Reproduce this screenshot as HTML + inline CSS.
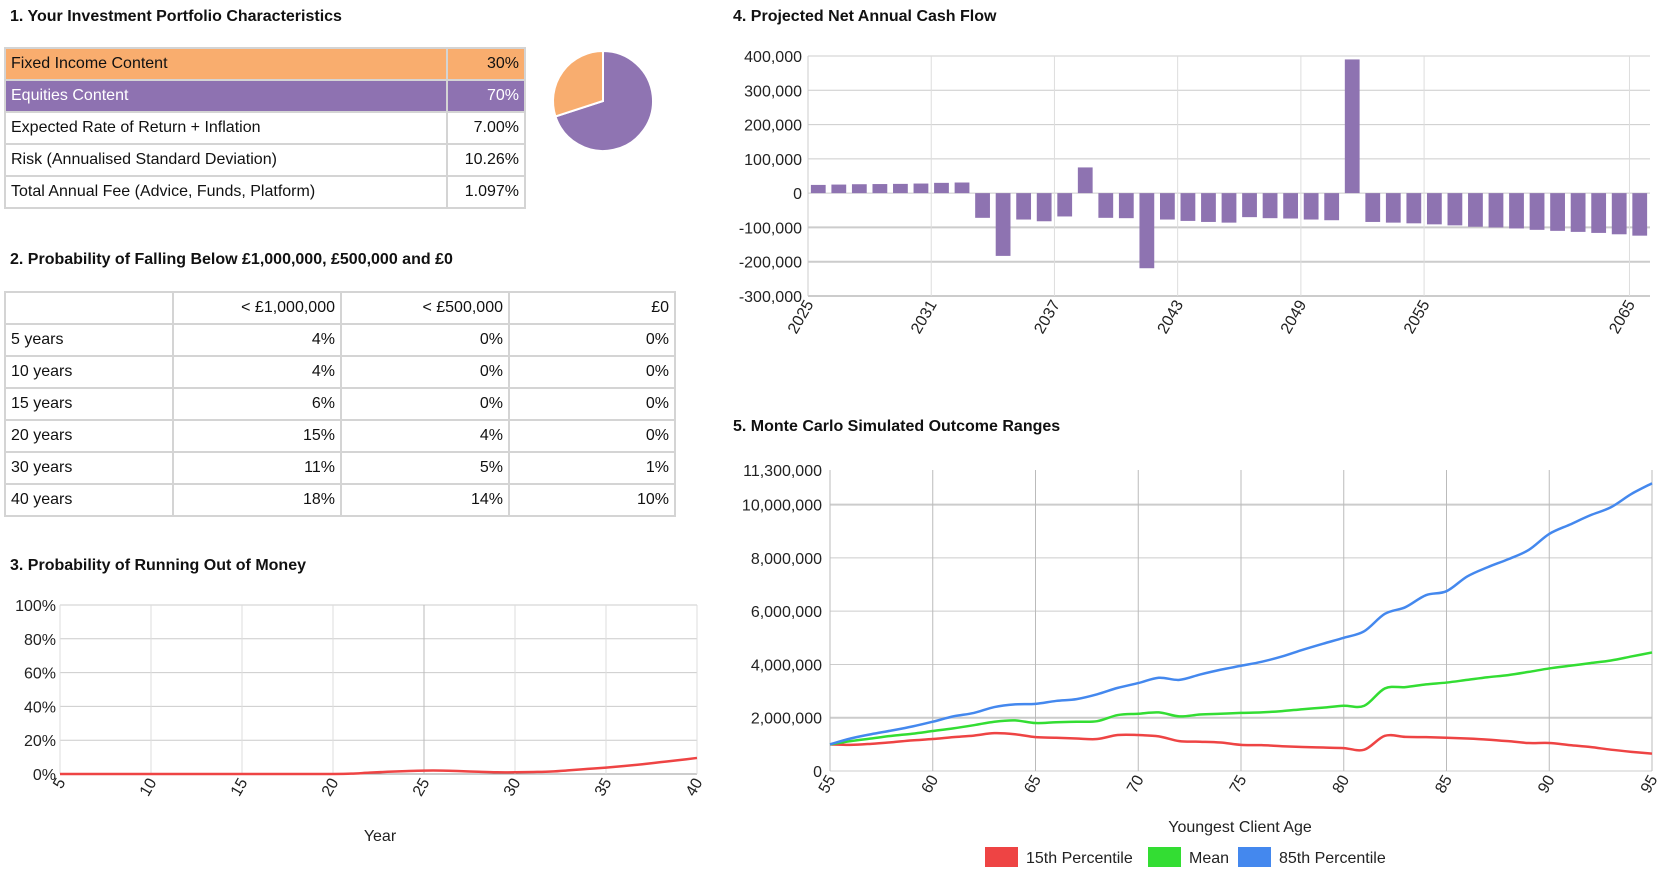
<!DOCTYPE html>
<html><head><meta charset="utf-8">
<style>
body{margin:0;width:1658px;height:877px;background:#fff;font-family:"Liberation Sans",Arial,sans-serif;color:#111;position:relative;overflow:hidden}
.t{position:absolute;font-weight:bold;font-size:16px}
table{position:absolute;border-collapse:collapse;font-size:16px}
td{border:2px solid #d4d4d4;padding:0 5px;height:30px}
td.r{text-align:right}
svg{position:absolute;left:0;top:0}
svg text{font-family:"Liberation Sans",Arial,sans-serif;font-size:16px;fill:#222}
</style></head><body>
<div class="t" style="left:10px;top:8px">1. Your Investment Portfolio Characteristics</div>
<table style="left:4px;top:47px;width:522px">
<tr style="background:#f9ad6e"><td style="width:430px">Fixed Income Content</td><td class="r">30%</td></tr>
<tr style="background:#8e72b1;color:#fff"><td>Equities Content</td><td class="r">70%</td></tr>
<tr><td>Expected Rate of Return + Inflation</td><td class="r">7.00%</td></tr>
<tr><td>Risk (Annualised Standard Deviation)</td><td class="r">10.26%</td></tr>
<tr><td>Total Annual Fee (Advice, Funds, Platform)</td><td class="r">1.097%</td></tr>
</table>
<div class="t" style="left:10px;top:251px">2. Probability of Falling Below £1,000,000, £500,000 and £0</div>
<table style="left:4px;top:291px;width:672px">
<tr><td style="width:156px"></td><td class="r" style="width:156px">&lt; £1,000,000</td><td class="r" style="width:156px">&lt; £500,000</td><td class="r">£0</td></tr>
<tr><td>5 years</td><td class="r">4%</td><td class="r">0%</td><td class="r">0%</td></tr>
<tr><td>10 years</td><td class="r">4%</td><td class="r">0%</td><td class="r">0%</td></tr>
<tr><td>15 years</td><td class="r">6%</td><td class="r">0%</td><td class="r">0%</td></tr>
<tr><td>20 years</td><td class="r">15%</td><td class="r">4%</td><td class="r">0%</td></tr>
<tr><td>30 years</td><td class="r">11%</td><td class="r">5%</td><td class="r">1%</td></tr>
<tr><td>40 years</td><td class="r">18%</td><td class="r">14%</td><td class="r">10%</td></tr>
</table>
<div class="t" style="left:10px;top:557px">3. Probability of Running Out of Money</div>
<div class="t" style="left:733px;top:8px">4. Projected Net Annual Cash Flow</div>
<div class="t" style="left:733px;top:418px">5. Monte Carlo Simulated Outcome Ranges</div>
<svg id="s" width="1658" height="877"></svg>
<script>
const pieValues=[30,70];
const ruinYears=[5,6,7,8,9,10,11,12,13,14,15,16,17,18,19,20,21,22,23,24,25,26,27,28,29,30,31,32,33,34,35,36,37,38,39,40];
const ruinValues=[0,0,0,0,0,0,0,0,0,0,0,0,0,0,0,0,0.2,0.8,1.3,1.7,2,2,1.7,1.3,1,1,1.2,1.5,2.2,3,3.8,4.7,5.8,7,8.2,9.5];
const ruinTicksY=[0,20,40,60,80,100];
const ruinTicksX=[5,10,15,20,25,30,35,40];
const cashYears=[];for(let y=2025;y<=2065;y++)cashYears.push(y);
const cashValues=[24000,25000,26000,26500,27000,28000,30000,31000,-72000,-183000,-77000,-82000,-68000,75000,-72000,-73000,-219000,-77000,-81000,-84000,-86000,-70000,-73000,-74000,-77000,-79000,390000,-84000,-86000,-88000,-91000,-94000,-98000,-100000,-103000,-107000,-110000,-113000,-116000,-120000,-124000];
const cashTicksY=[400000,300000,200000,100000,0,-100000,-200000,-300000];
const cashTickYears=[2025,2031,2037,2043,2049,2055,2065];
const ages=[];for(let a=55;a<=95;a++)ages.push(a);
const p85=[1.0,1.22,1.38,1.52,1.67,1.85,2.05,2.18,2.4,2.5,2.52,2.63,2.7,2.88,3.12,3.3,3.5,3.42,3.62,3.8,3.95,4.1,4.3,4.55,4.78,5.0,5.25,5.9,6.15,6.6,6.75,7.3,7.65,7.95,8.3,8.9,9.25,9.6,9.9,10.4,10.8];
const pMean=[1.0,1.12,1.22,1.32,1.4,1.5,1.6,1.72,1.85,1.9,1.8,1.83,1.85,1.87,2.1,2.15,2.2,2.05,2.12,2.15,2.18,2.2,2.25,2.32,2.38,2.45,2.45,3.1,3.15,3.25,3.32,3.42,3.52,3.6,3.72,3.85,3.95,4.05,4.15,4.3,4.45];
const p15=[1.0,0.98,1.02,1.08,1.15,1.2,1.27,1.33,1.42,1.38,1.27,1.25,1.22,1.2,1.35,1.35,1.3,1.12,1.1,1.07,0.98,0.97,0.93,0.9,0.88,0.86,0.8,1.32,1.28,1.27,1.25,1.22,1.18,1.12,1.05,1.05,0.97,0.9,0.8,0.72,0.65];
const mcTicksY=[0,2,4,6,8,10,11.3];
const mcTicksX=[55,60,65,70,75,80,85,90,95];

const S=document.getElementById('s');const NS='http://www.w3.org/2000/svg';
function mk(t,a,txt){const e=document.createElementNS(NS,t);for(const k in a)e.setAttribute(k,a[k]);if(txt!==undefined)e.textContent=txt;S.appendChild(e);return e;}
const fmt=v=>Math.round(v).toLocaleString('en-US');
function smooth(pts){let d='M'+pts[0][0]+','+pts[0][1];for(let i=0;i<pts.length-1;i++){const p0=pts[i-1]||pts[i],p1=pts[i],p2=pts[i+1],p3=pts[i+2]||p2;const c1x=p1[0]+(p2[0]-p0[0])/6,c1y=p1[1]+(p2[1]-p0[1])/6,c2x=p2[0]-(p3[0]-p1[0])/6,c2y=p2[1]-(p3[1]-p1[1])/6;d+=`C${c1x},${c1y} ${c2x},${c2y} ${p2[0]},${p2[1]}`;}return d;}

// pie
(function(){const cx=603,cy=101,r=50;const tot=pieValues[0]+pieValues[1];const cols=['#f8ad6f','#8f74b2'];
let a0=-Math.PI/2;const order=[1,0];
order.forEach(i=>{const a1=a0+pieValues[i]/tot*2*Math.PI;const x0=cx+r*Math.cos(a0),y0=cy+r*Math.sin(a0),x1=cx+r*Math.cos(a1),y1=cy+r*Math.sin(a1);
const p=mk('path',{d:`M${cx},${cy}L${x0},${y0}A${r},${r} 0 ${a1-a0>Math.PI?1:0} 1 ${x1},${y1}Z`,fill:cols[i],stroke:'#fff','stroke-width':2});

a0=a1;});})();

// chart 3
(function(){const L=60,R=697,T=605,B=774;const x=v=>L+(v-5)/35*(R-L),y=v=>B-v/100*(B-T);
ruinTicksY.forEach(t=>{mk('line',{x1:L,x2:R,y1:y(t),y2:y(t),stroke:t==0?'#999':'#ccc'});const e=mk('text',{x:L-4,y:y(t)+6,'text-anchor':'end'},t+'%');});
ruinTicksX.forEach(t=>{mk('line',{x1:x(t),x2:x(t),y1:T,y2:B,stroke:t==25?'#bbb':'#ddd'});const e=mk('text',{x:0,y:0,'text-anchor':'end',transform:`translate(${x(t)+6},${B+8}) rotate(-60)`},t);});
const p=mk('path',{d:smooth(ruinYears.map((v,i)=>[x(v),y(ruinValues[i])])),fill:'none',stroke:'#ee4444','stroke-width':2.5});

const e=mk('text',{x:380,y:841,'text-anchor':'middle'},'Year');})();

// chart 4
(function(){const L=808,R=1650,T=56,B=296;const bw=(R-L)/cashYears.length;const y=v=>T+(400000-v)/700000*(B-T);const xb=yr=>L+(yr-2025)*bw;
cashTicksY.forEach(t=>{mk('line',{x1:L,x2:R,y1:y(t),y2:y(t),stroke:'#ccc','stroke-width':t<0?2:1});const e=mk('text',{x:L-6,y:y(t)+6,'text-anchor':'end'},fmt(t));});
cashTickYears.forEach(t=>{mk('line',{x1:xb(t),x2:xb(t),y1:T,y2:B,stroke:'#ddd'});const e=mk('text',{x:0,y:0,'text-anchor':'end',transform:`translate(${xb(t)+6},${B+8}) rotate(-60)`},t);});
cashYears.forEach((yr,i)=>{const v=cashValues[i];const r=mk('rect',{x:xb(yr)+bw*0.14,width:bw*0.72,y:Math.min(y(v),y(0)),height:Math.abs(y(v)-y(0)),fill:'#8e73b1'});});
mk('line',{x1:L,x2:L,y1:T,y2:B,stroke:'#ccc'});})();

// chart 5
(function(){const L=830,R=1652,T=470,B=771;const x=v=>L+(v-55)/40*(R-L),y=v=>B-v/11.3*(B-T);
mcTicksY.forEach(t=>{if(t!==11.3)mk('line',{x1:L,x2:R,y1:y(t),y2:y(t),stroke:'#ccc','stroke-width':(t==2||t==10)?2:1});const e=mk('text',{x:L-8,y:y(t)+6,'text-anchor':'end'},fmt(t*1e6));});
mcTicksX.forEach(t=>{mk('line',{x1:x(t),x2:x(t),y1:T,y2:B,stroke:'#bbb'});const e=mk('text',{x:0,y:0,'text-anchor':'end',transform:`translate(${x(t)+6},${B+8}) rotate(-60)`},t);});
[[p15,'#ee4444','mc-line-15th'],[pMean,'#33dd33','mc-line-mean'],[p85,'#4488ee','mc-line-85th']].forEach(s=>{const p=mk('path',{d:smooth(ages.map((a,i)=>[x(a),y(s[0][i])])),fill:'none',stroke:s[1],'stroke-width':2.5});});
const e=mk('text',{x:1240,y:832,'text-anchor':'middle'},'Youngest Client Age');
[[985,'#ee4444','15th Percentile'],[1148,'#33dd33','Mean'],[1238,'#4488ee','85th Percentile']].forEach(l=>{const r=mk('rect',{x:l[0],y:847,width:33,height:20,fill:l[1]});const t=mk('text',{x:l[0]+41,y:863},l[2]);});})();
</script>
</body></html>
